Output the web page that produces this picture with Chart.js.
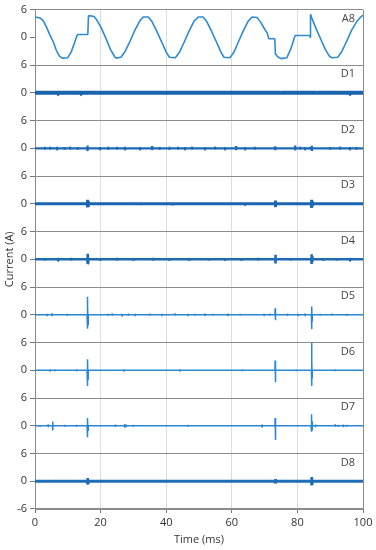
<!DOCTYPE html>
<html lang="en">
<head>
<meta charset="UTF-8">
<title>Branch currents</title>
<script src="https://cdn.jsdelivr.net/npm/chart.js"></script>
<style>
  body { margin: 0; background: #fff; }
  #wrap { position: relative; width: 376px; height: 550px; }
</style>
</head>
<body>
<div id="wrap"><canvas id="currents" width="376" height="550"></canvas></div>
<script>
// A8 waveform (time in ms, current in A)
const a8Time = [0, 1.5, 2.5, 3.5, 4.5, 5.3, 5.6, 6.5, 7.5, 8.3, 10.0, 11.0, 12.0, 12.7, 13.0, 16.1, 16.3, 16.5,
  18.0, 18.7, 20.0, 21.5, 23.0, 24.3, 24.8, 26.2, 27.5, 29.0, 30.5, 32.0, 33.0, 34.5, 35.5, 37.0, 38.5,
  40.0, 41.0, 42.8, 44.0, 45.5, 47.0, 48.5, 49.8, 51.2, 52.2, 53.7, 55.2, 56.7, 57.6, 59.4, 60.6, 62.0,
  63.5, 65.0, 66.2, 67.7, 68.7, 70.0, 70.8, 71.3, 73.1, 73.3, 74.0, 75.0, 76.8, 78.0, 79.3, 83.8, 83.9,
  84.0, 84.4, 85.5, 87.0, 88.5, 89.8, 90.5, 92.3, 93.5, 95.0, 96.5, 98.0, 99.3, 100];
const a8Current = [4.4, 4.2, 3.6, 2.2, 0.6, -0.6, -1.0, -2.8, -4.1, -4.5, -4.4, -3.2, -1.3, 0.2, 0.6, 0.6, 4.6, 4.7,
  4.5, 3.9, 2.3, 0, -2.6, -4.2, -4.5, -4.3, -3.0, -0.8, 1.6, 3.6, 4.4, 4.4, 3.6, 1.5, -0.8,
  -3.2, -4.3, -4.4, -3.3, -1.0, 1.4, 3.5, 4.4, 4.4, 3.6, 1.5, -0.8, -3.2, -4.3, -4.4, -3.3, -1.0,
  1.4, 3.5, 4.4, 4.3, 3.4, 1.8, 0.9, -0.3, -0.3, -3.6, -4.2, -4.6, -4.4, -2.5, 0.4, 0.4, 0.0,
  5.0, 4.2, 2.2, -0.2, -2.6, -4.1, -4.4, -4.3, -3.1, -0.9, 1.5, 3.3, 4.4, 4.8];

// D1..D8 sit at 0 A; each burst is [time ms, peak up A, peak down A]
const d1Bursts = [[2, 0.3, -0.2], [4, 0.35, -0.3], [7, 0.2, -0.3], [9, 0.3, -0.35], [12, 0.25, -0.2],
  [14, 0.35, -0.3], [17, 0.2, -0.2], [19, 0.4, -0.3], [22, 0.2, -0.25], [24, 0.3, -0.3], [27, 0.25, -0.2],
  [30, 0.35, -0.35], [33, 0.2, -0.2], [37, 0.3, -0.3], [41, 0.25, -0.2], [45, 0.35, -0.3], [48, 0.2, -0.25],
  [52, 0.3, -0.35], [55, 0.2, -0.2], [58, 0.35, -0.3], [62, 0.2, -0.2], [66, 0.3, -0.3], [69, 0.25, -0.2],
  [72, 0.35, -0.35], [75, 0.2, -0.2], [78, 0.3, -0.3], [81, 0.25, -0.2], [83, 0.35, -0.35], [86, 0.2, -0.25],
  [88, 0.4, -0.35], [91, 0.3, -0.2], [93, 0.35, -0.3], [96, 0.3, -0.3], [98, 0.35, -0.35]];
const d2Bursts = [[3, 0.35, -0.3], [4.6, 0.3, -0.3], [6.7, 0.35, -0.3], [9, 0.3, -0.3], [10.7, 0.35, -0.3],
  [13, 0.3, -0.3], [16, 0.6, -0.6], [19.8, 0.3, -0.3], [22.3, 0.35, -0.3], [25, 0.3, -0.3], [27.4, 0.35, -0.3],
  [32, 0.3, -0.3], [35.7, 0.5, -0.4], [38, 0.3, -0.3], [41, 0.35, -0.3], [43.6, 0.3, -0.3], [45.7, 0.3, -0.3],
  [47.9, 0.35, -0.3], [51.8, 0.3, -0.3], [54.9, 0.35, -0.3], [57.9, 0.3, -0.3], [61.3, 0.5, -0.4],
  [64, 0.3, -0.3], [67, 0.35, -0.3], [73.2, 0.45, -0.4], [79.3, 0.6, -0.45], [80.8, 0.35, -0.3], [82.3, 0.3, -0.3],
  [83.8, 0.35, -0.3], [84.4, 0.55, -0.55], [90, 0.3, -0.3], [93, 0.35, -0.3], [96, 0.3, -0.3], [98, 0.3, -0.3]];
const d3Bursts = [[16.0, 0.9, -0.8], [16.2, 0.6, -0.7], [32.5, 0.2, -0.3], [42, 0.2, -0.3], [51, 0.25, -0.2],
  [64, 0.2, -0.2], [73.3, 0.7, -0.7], [84.3, 0.9, -0.9], [84.5, 0.6, -0.6], [91, 0.2, -0.2]];
const d4Bursts = [[3, 0.3, -0.3], [7, 0.3, -0.3], [11, 0.3, -0.3], [16.0, 1.2, -1.0], [16.15, 0.8, -0.9],
  [20, 0.3, -0.3], [25, 0.3, -0.3], [30, 0.3, -0.3], [36, 0.3, -0.3], [41, 0.3, -0.3], [47, 0.3, -0.3],
  [53, 0.3, -0.3], [58, 0.3, -0.3], [63, 0.3, -0.3], [68, 0.3, -0.3], [73.3, 1.0, -0.9], [78, 0.3, -0.3],
  [84.3, 1.1, -1.0], [84.5, 0.7, -0.7], [88, 0.3, -0.3], [92, 0.3, -0.3], [96, 0.3, -0.3]];
const d5Bursts = [[3.7, 0.2, -0.3], [5.2, 0.3, -0.3], [9.8, 0.2, -0.2], [15.9, 1.5, -1.2], [16.0, 3.9, -3.0],
  [16.15, 2.0, -2.2], [22.3, 0.2, -0.2], [23.5, 0.3, -0.2], [26.5, 0.2, -0.3], [28.5, 0.3, -0.2],
  [30.5, 0.2, -0.3], [35, 0.3, -0.2], [38.7, 0.2, -0.2], [42.7, 0.3, -0.2], [46.6, 0.2, -0.3],
  [48.8, 0.2, -0.2], [51.8, 0.3, -0.2], [54.3, 0.2, -0.2], [58.8, 0.3, -0.3], [62.5, 0.2, -0.2],
  [69.8, 0.2, -0.2], [71.6, 0.3, -0.2], [73.2, 1.4, -1.2], [73.35, 0.8, -0.8], [77, 0.3, -0.2],
  [80.2, 0.2, -0.3], [82.3, 0.3, -0.2], [84.3, 1.8, -3.1], [84.45, 1.2, -1.4], [86.9, 0.2, -0.2],
  [90.5, 0.3, -0.2], [95, 0.2, -0.2]];
const d6Bursts = [[4.6, 0.2, -0.3], [6, 0.2, -0.2], [12.7, 0.2, -0.2], [15.9, 1.2, -1.4], [16.0, 2.4, -3.4],
  [16.15, 1.6, -2.0], [27.1, 0.2, -0.2], [44.2, 0.2, -0.2], [63.2, 0.2, -0.2], [73.2, 2.1, -2.6],
  [73.35, 1.2, -1.6], [79.6, 0.2, -0.2], [84.3, 6.0, -3.4], [84.45, 2.2, -1.8], [91.5, 0.2, -0.2]];
const d7Bursts = [[1.5, 0.15, -0.15], [4, 0.3, -0.3], [5.4, 0.9, -1.0], [9, 0.2, -0.2], [12.7, 0.2, -0.2],
  [15.9, 1.0, -1.2], [16.0, 1.7, -2.5], [16.15, 0.9, -1.0], [24.5, 0.3, -0.2], [27.3, 0.4, -0.4],
  [27.8, 0.3, -0.3], [30, 0.2, -0.2], [46.7, 0.2, -0.2], [69.2, 0.3, -0.3], [73.2, 1.7, -3.1],
  [73.35, 1.0, -1.5], [84.2, 0.9, -1.2], [84.35, 2.5, -1.3], [84.5, 1.0, -1.0], [85.5, 0.3, -0.3],
  [91.5, 0.3, -0.2], [92.5, 0.2, -0.2], [94, 0.3, -0.3], [95, 0.2, -0.2]];
const d8Bursts = [[5.2, 0.2, -0.2], [16.0, 0.7, -0.7], [16.15, 0.5, -0.5], [73.3, 0.5, -0.5],
  [79.5, 0.2, -0.2], [84.3, 0.9, -0.9], [84.45, 0.6, -0.6]];

const panelLabels = ['A8', 'D1', 'D2', 'D3', 'D4', 'D5', 'D6', 'D7', 'D8'];
const yTickValues = [-6, 0, 6];

// line look per panel, top to bottom
const traceWidth = [1.6, 4, 2.2, 3, 2.6, 1.5, 1.5, 1.5, 2.8];
const traceColor = ['#2d8bd3', '#1a63ad', '#1e6ab3', '#1b66b0', '#1e6ab3', '#2a86cf', '#2b8ad3', '#2a86cf', '#1f6db6'];

function burstPoints(bursts) {
  const pts = [{x: 0, y: 0}];
  bursts.forEach(([t, up, down]) => {
    pts.push({x: t - 0.04, y: 0}, {x: t, y: up}, {x: t + 0.04, y: down}, {x: t + 0.08, y: 0});
  });
  pts.push({x: 100, y: 0});
  return pts;
}

const series = [
  a8Time.map((t, i) => ({x: t, y: a8Current[i]})),
  burstPoints(d1Bursts), burstPoints(d2Bursts), burstPoints(d3Bursts), burstPoints(d4Bursts),
  burstPoints(d5Bursts), burstPoints(d6Bursts), burstPoints(d7Bursts), burstPoints(d8Bursts)
];

Chart.defaults.font.family = "'Open Sans', 'Noto Sans', sans-serif";
Chart.defaults.font.size = 11;
Chart.defaults.color = '#333';

const frameColor = '#8c8c8c';
const lastIdx = panelLabels.length - 1;

const scales = {
  x: {
    type: 'linear', min: 0, max: 100,
    ticks: { stepSize: 20, padding: 3, maxRotation: 0 },
    grid: {
      color: (c) => (c.tick.value === 0 || c.tick.value === 100) ? frameColor : '#dcdcdc',
      tickColor: '#777', tickLength: 4
    },
    border: { color: frameColor },
    title: { display: true, text: 'Time (ms)', padding: { top: 1, bottom: 4 } },
    afterFit: (s) => { s.height = 41; }
  }
};
panelLabels.forEach((name, i) => {
  scales['y' + name] = {
    type: 'linear', position: 'left', stack: 'panels', stackWeight: 1,
    weight: 20 - i,
    min: -6, max: 6,
    afterBuildTicks: (s) => { s.ticks = yTickValues.map(v => ({value: v})); },
    ticks: {
      padding: 3,
      autoSkip: false,
      callback: (v) => (v === -6 && i !== lastIdx) ? null : String(v)
    },
    grid: {
      color: (c) => c.tick.value === 0 ? 'rgba(0,0,0,0)' : frameColor,
      tickColor: '#777', tickLength: 5
    },
    border: { color: frameColor },
    afterFit: (s) => { s.width = 35; }
  };
});

const panelText = {
  id: 'panelText',
  afterDraw(chart) {
    const ctx = chart.ctx, area = chart.chartArea;
    ctx.save();
    ctx.font = "11px 'Open Sans', 'Noto Sans', sans-serif";
    ctx.fillStyle = '#444';
    ctx.textAlign = 'right';
    ctx.textBaseline = 'middle';
    panelLabels.forEach((name) => {
      const sc = chart.scales['y' + name];
      ctx.fillText(name, area.right - 8, sc.top + 9);
    });
    ctx.translate(10, (area.top + area.bottom) / 2);
    ctx.rotate(-Math.PI / 2);
    ctx.textAlign = 'center';
    ctx.fillStyle = '#333';
    ctx.fillText('Current (A)', 0, 0);
    ctx.restore();
  }
};

new Chart(document.getElementById('currents'), {
  type: 'line',
  data: {
    datasets: series.map((pts, i) => ({
      label: panelLabels[i],
      data: pts,
      yAxisID: 'y' + panelLabels[i],
      borderColor: traceColor[i],
      borderWidth: traceWidth[i],
      borderJoinStyle: 'bevel',
      pointRadius: 0,
      tension: 0,
      fill: false
    }))
  },
  options: {
    responsive: false,
    animation: false,
    layout: { padding: { top: 7, right: 13, left: 0, bottom: 0 } },
    plugins: { legend: { display: false }, tooltip: { enabled: false } },
    scales: scales
  },
  plugins: [panelText]
});
</script>
</body>
</html>
